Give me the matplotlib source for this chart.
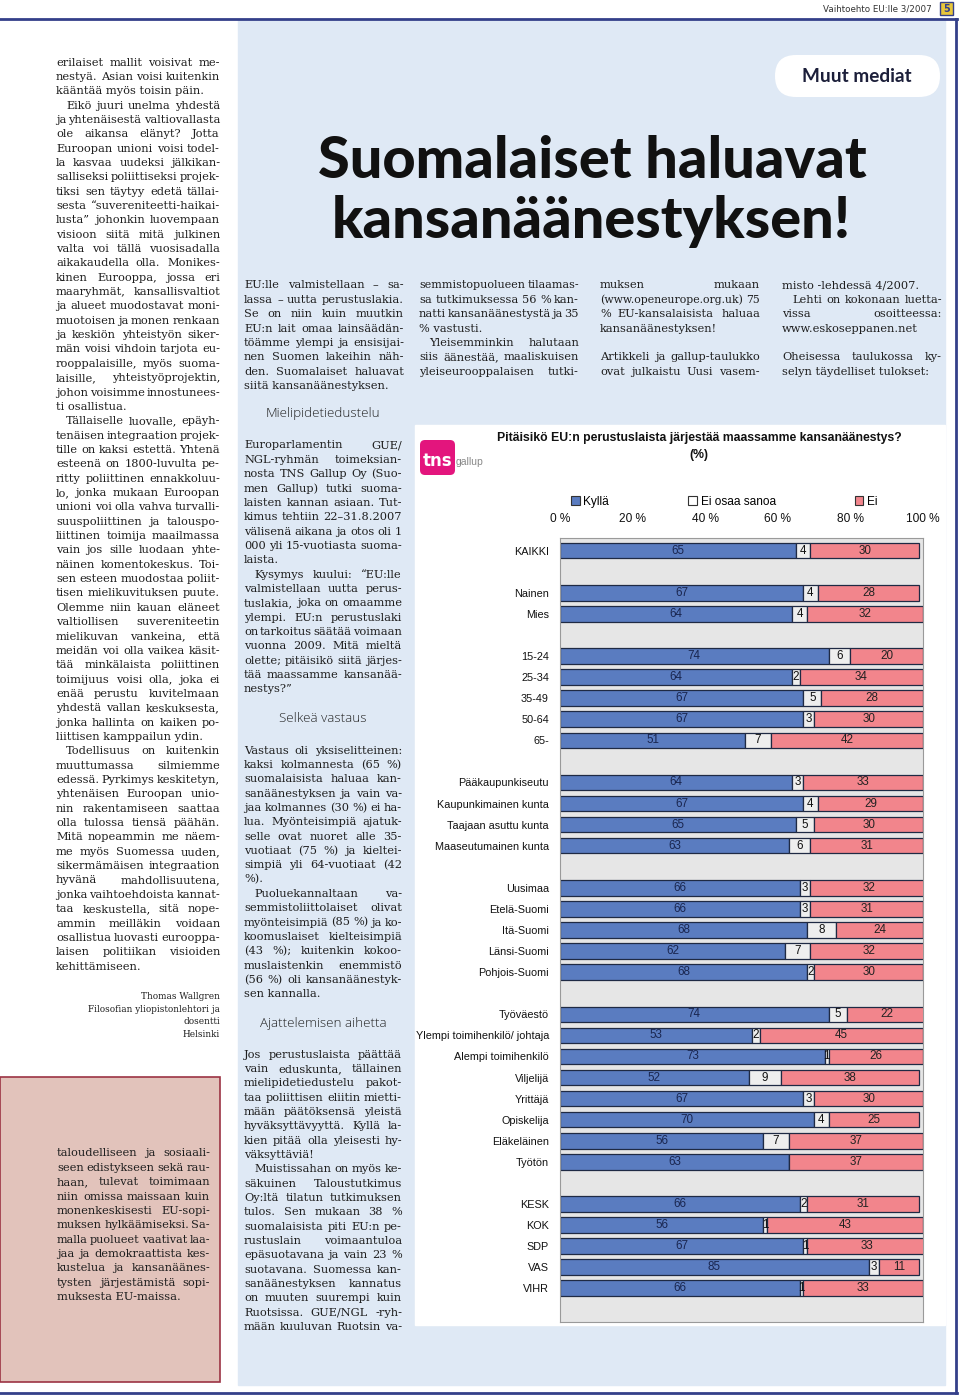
import matplotlib
matplotlib.use("Agg")
import matplotlib.pyplot as plt
from matplotlib.patches import Rectangle, FancyBboxPatch, Patch
from matplotlib.font_manager import FontProperties
import numpy as np

W, H = 960, 1397

# --- chart data (TNS Gallup, %)
categories = ["KAIKKI",
              "Nainen", "Mies",
              "15-24", "25-34", "35-49", "50-64", "65-",
              "Pääkaupunkiseutu", "Kaupunkimainen kunta", "Taajaan asuttu kunta", "Maaseutumainen kunta",
              "Uusimaa", "Etelä-Suomi", "Itä-Suomi", "Länsi-Suomi", "Pohjois-Suomi",
              "Työväestö", "Ylempi toimihenkilö/ johtaja", "Alempi toimihenkilö", "Viljelijä",
              "Yrittäjä", "Opiskelija", "Eläkeläinen", "Työtön",
              "KESK", "KOK", "SDP", "VAS", "VIHR"]
group_sizes = [1, 2, 5, 4, 5, 8, 5]
kylla = [65, 67, 64, 74, 64, 67, 67, 51, 64, 67, 65, 63, 66, 66, 68, 62, 68,
         74, 53, 73, 52, 67, 70, 56, 63, 66, 56, 67, 85, 66]
eos = [4, 4, 4, 6, 2, 5, 3, 7, 3, 4, 5, 6, 3, 3, 8, 7, 2,
       5, 2, 1, 9, 3, 4, 7, 0, 2, 1, 1, 3, 1]
ei = [30, 28, 32, 20, 34, 28, 30, 42, 33, 29, 30, 31, 32, 31, 24, 32, 30,
      22, 45, 26, 38, 30, 25, 37, 37, 31, 43, 33, 11, 33]
legend_labels = ["Kyllä", "Ei osaa sanoa", "Ei"]
ticks = [0, 20, 40, 60, 80, 100]

# --- page text
left_col = [
    ["erilaiset mallit voisivat me-", "nestyä. Asian voisi kuitenkin", "kääntää myös toisin päin."],
    [" Eikö juuri unelma yhdestä", "ja yhtenäisestä valtiovallasta", "ole aikansa elänyt? Jotta",
     "Euroopan unioni voisi todel-", "la kasvaa uudeksi jälkikan-", "salliseksi poliittiseksi projek-",
     "tiksi sen täytyy edetä tällai-", "sesta “suvereniteetti-haikai-", "lusta” johonkin luovempaan",
     "visioon siitä mitä julkinen", "valta voi tällä vuosisadalla", "aikakaudella olla. Monikes-",
     "kinen Eurooppa, jossa eri", "maaryhmät, kansallisvaltiot", "ja alueet muodostavat moni-",
     "muotoisen ja monen renkaan", "ja keskiön yhteistyön siker-", "män voisi vihdoin tarjota eu-",
     "rooppalaisille, myös suoma-", "laisille, yhteistyöprojektin,", "johon voisimme innostunees-",
     "ti osallistua."],
    [" Tällaiselle luovalle, epäyh-", "tenäisen integraation projek-", "tille on kaksi estettä. Yhtenä",
     "esteenä on 1800-luvulta pe-", "ritty poliittinen ennakkoluu-", "lo, jonka mukaan Euroopan",
     "unioni voi olla vahva turvalli-", "suuspoliittinen ja talouspo-", "liittinen toimija maailmassa",
     "vain jos sille luodaan yhte-", "näinen komentokeskus. Toi-", "sen esteen muodostaa poliit-",
     "tisen mielikuvituksen puute.", "Olemme niin kauan eläneet", "valtiollisen suvereniteetin",
     "mielikuvan vankeina, että", "meidän voi olla vaikea käsit-", "tää minkälaista poliittinen",
     "toimijuus voisi olla, joka ei", "enää perustu kuvitelmaan", "yhdestä vallan keskuksesta,",
     "jonka hallinta on kaiken po-", "liittisen kamppailun ydin."],
    [" Todellisuus on kuitenkin", "muuttumassa silmiemme", "edessä. Pyrkimys keskitetyn,",
     "yhtenäisen Euroopan unio-", "nin rakentamiseen saattaa", "olla tulossa tiensä päähän.",
     "Mitä nopeammin me näem-", "me myös Suomessa uuden,", "sikermämäisen integraation",
     "hyvänä mahdollisuutena,", "jonka vaihtoehdoista kannat-", "taa keskustella, sitä nope-",
     "ammin meilläkin voidaan", "osallistua luovasti eurooppa-", "laisen politiikan visioiden",
     "kehittämiseen."],
]
signature = ["Thomas Wallgren", "Filosofian yliopistonlehtori ja", "dosentti", "Helsinki"]
box_text = [
    ["taloudelliseen ja sosiaali-", "seen edistykseen sekä rau-", "haan, tulevat toimimaan",
     "niin omissa maissaan kuin", "monenkeskisesti EU-sopi-", "muksen hylkäämiseksi. Sa-",
     "malla puolueet vaativat laa-", "jaa ja demokraattista kes-", "kustelua ja kansanäänes-",
     "tysten järjestämistä sopi-", "muksesta EU-maissa."],
]
top_cols = [
    [["EU:lle valmistellaan – sa-", "lassa – uutta perustuslakia.", "Se on niin kuin muutkin",
      "EU:n lait omaa lainsäädän-", "töämme ylempi ja ensisijai-", "nen Suomen lakeihin näh-",
      "den. Suomalaiset haluavat", "siitä kansanäänestyksen."]],
    [["semmistopuolueen tilaamas-", "sa tutkimuksessa 56 % kan-", "natti kansanäänestystä ja 35",
      "% vastusti."],
     [" Yleisemminkin halutaan", "siis äänestää, maaliskuisen", "yleiseurooppalaisen tutki-"]],
    [["muksen mukaan", "(www.openeurope.org.uk) 75", "% EU-kansalaisista haluaa",
      "kansanäänestyksen!"], [],
     ["Artikkeli ja gallup-taulukko", "ovat julkaistu Uusi vasem-"]],
    [["misto -lehdessä 4/2007."], [" Lehti on kokonaan luetta-", "vissa osoitteessa:",
      "www.eskoseppanen.net"], [],
     ["Oheisessa taulukossa ky-", "selyn täydelliset tulokset:"]],
]
mid_blocks = [
    ("Mielipidetiedustelu",
     [["Europarlamentin GUE/", "NGL-ryhmän toimeksian-", "nosta TNS Gallup Oy (Suo-",
       "men Gallup) tutki suoma-", "laisten kannan asiaan. Tut-", "kimus tehtiin 22–31.8.2007",
       "välisenä aikana ja otos oli 1", "000 yli 15-vuotiasta suoma-", "laista."],
      [" Kysymys kuului: “EU:lle", "valmistellaan uutta perus-", "tuslakia, joka on omaamme",
       "ylempi. EU:n perustuslaki", "on tarkoitus säätää voimaan", "vuonna 2009. Mitä mieltä",
       "olette; pitäisikö siitä järjes-", "tää maassamme kansanää-", "nestys?”"]]),
    ("Selkeä vastaus",
     [["Vastaus oli yksiselitteinen:", "kaksi kolmannesta (65 %)", "suomalaisista haluaa kan-",
       "sanäänestyksen ja vain va-", "jaa kolmannes (30 %) ei ha-", "lua. Myönteisimpiä ajatuk-",
       "selle ovat nuoret alle 35-", "vuotiaat (75 %) ja kieltei-", "simpiä yli 64-vuotiaat (42",
       "%)."],
      [" Puoluekannaltaan va-", "semmistoliittolaiset olivat", "myönteisimpiä (85 %) ja ko-",
       "koomuslaiset kielteisimpiä", "(43 %); kuitenkin kokoo-", "muslaistenkin enemmistö",
       "(56 %) oli kansanäänestyk-", "sen kannalla."]]),
    ("Ajattelemisen aihetta",
     [["Jos perustuslaista päättää", "vain eduskunta, tällainen", "mielipidetiedustelu pakot-",
       "taa poliittisen eliitin mietti-", "mään päätöksensä yleistä", "hyväksyttävyyttä. Kyllä la-",
       "kien pitää olla yleisesti hy-", "väksyttäviä!"],
      [" Muistissahan on myös ke-", "säkuinen Taloustutkimus", "Oy:ltä tilatun tutkimuksen",
       "tulos. Sen mukaan 38 %", "suomalaisista piti EU:n pe-", "rustuslain voimaantuloa",
       "epäsuotavana ja vain 23 %", "suotavana. Suomessa kan-", "sanäänestyksen kannatus",
       "on muuten suurempi kuin", "Ruotsissa. GUE/NGL -ryh-", "mään kuuluvan Ruotsin va-"]]),
]
headline = ["Suomalaiset haluavat", "kansanäänestyksen!"]

ink = "#1e1e1e"
navy = "#34408a"
panel = "#dfe9f5"
blue = "#5a7cc0"
pink = "#f2858c"
grey = "#eeeeee"

fig = plt.figure(figsize=(W / 100, H / 100), dpi=100)
page = fig.add_axes([0, 0, 1, 1])
page.set_xlim(0, W)
page.set_ylim(H, 0)
page.axis("off")
renderer = fig.canvas.get_renderer()


def width_of(s, fp):
    w, h, d = renderer.get_text_width_height_descent(s, fp, ismath=False)
    return w


def fit_size(s, fp, target):
    f = fp.copy()
    f.set_size(10)
    return 10 * target / width_of(s, f)


# backgrounds and frame
page.add_patch(Rectangle((238, 20), 707, 1365, color=panel, zorder=0))
page.add_patch(Rectangle((415, 425), 530, 900, color="white", zorder=0))
page.add_patch(Rectangle((0, 1077), 220, 305, facecolor="#e2c3bb", edgecolor="#9c3344", lw=1.2, zorder=1))
page.plot([0, 957], [19, 19], color=navy, lw=2)
page.plot([956, 956], [19, 1393], color=navy, lw=2)
page.plot([0, 957], [1393, 1393], color=navy, lw=2)

# running header
hf = FontProperties(family="DejaVu Sans", size=6.3)
page.text(932, 12, "Vaihtoehto EU:lle 3/2007", fontproperties=hf, ha="right", va="baseline", color="#333")
page.add_patch(Rectangle((940, 2), 13, 13, facecolor="#e8c63a", edgecolor=navy, lw=1))
page.text(946.5, 9, "5", fontsize=7, fontweight="bold", ha="center", va="center", color=navy)

# body text with justification
body = FontProperties(family="DejaVu Serif", size=8.2)
LH = 14.35


def draw_column(x0, width, y0, paras, fp=body, indent=10):
    y = y0
    for para in paras:
        if not para:
            y += LH
            continue
        for i, line in enumerate(para):
            x = x0
            w = width
            if i == 0 and line.startswith(" "):
                x += indent
                w -= indent
            words = line.split()
            f = fp.copy()
            ws = [width_of(t, f) for t in words]
            need = sum(ws) + 1.8 * (len(words) - 1)
            if need > w:
                f.set_size(fp.get_size() * w / need)
                ws = [width_of(t, f) for t in words]
            last = i == len(para) - 1 and not line.endswith("-")
            if last or len(words) < 2:
                page.text(x, y + 3.5, " ".join(words), fontproperties=f, ha="left", va="baseline", color=ink)
            else:
                gap = (w - sum(ws)) / (len(words) - 1)
                for t, tw in zip(words, ws):
                    page.text(x, y + 3.5, t, fontproperties=f, ha="left", va="baseline", color=ink)
                    x += tw + gap
            y += LH
    return y


draw_column(56, 164, 62, left_col)
sf = FontProperties(family="DejaVu Serif", size=6.4)
for k, s in enumerate(signature):
    page.text(220, 999 + k * 12.6, s, fontproperties=sf, ha="right", va="baseline", color=ink)
draw_column(57, 153, 1153, box_text)

for x0, paras in zip([244, 419, 600, 782], top_cols):
    draw_column(x0, 160, 285, paras)

sub = FontProperties(family="Open Sans", weight="light", size=9.6)
for (title, paras), yh in zip(mid_blocks, [414, 719, 1023]):
    page.text(323, yh, title, fontproperties=sub, ha="center", va="center", color="#222")
    draw_column(244, 158, yh + 31, paras)

# headline
hl = FontProperties(family="Lato", weight="black", size=40)
hl.set_size(fit_size(headline[0], hl, 548))
page.text(592, 178, headline[0], fontproperties=hl, ha="center", va="baseline", color="#111")
page.text(591, 238, headline[1], fontproperties=hl, ha="center", va="baseline", color="#111")

# "Muut mediat" pill
page.add_patch(FancyBboxPatch((775, 55), 165, 42, boxstyle="round,pad=0,rounding_size=21",
                              facecolor="white", edgecolor="none", zorder=2))
mm = FontProperties(family="Lato", weight="bold", size=14)
mm.set_size(fit_size("Muut mediat", mm, 110))
page.text(857, 77, "Muut mediat", fontproperties=mm, ha="center", va="center", color="#1c1f3a", zorder=3)

# tns gallup logo
page.add_patch(FancyBboxPatch((420, 440), 35, 35, boxstyle="round,pad=0,rounding_size=5",
                              facecolor="#e3157d", edgecolor="none"))
page.text(438, 461, "tns", fontsize=12, fontweight="bold", color="white", ha="center", va="center",
          family="DejaVu Sans")
page.text(470, 462, "gallup", fontsize=7.5, color="#888", ha="center", va="center", family="Liberation Sans")

# chart title
page.text(699, 438, "Pitäisikö EU:n perustuslaista järjestää maassamme kansanäänestys?",
          fontsize=8.8, fontweight="bold", family="Liberation Sans", ha="center", va="center", color="#111")
page.text(699, 455, "(%)", fontsize=8.8, fontweight="bold", family="Liberation Sans",
          ha="center", va="center", color="#111")

# --- stacked bar chart
pos = []
slot = 0
for g in group_sizes:
    pos += list(range(slot, slot + g))
    slot += g + 1
pos = np.array(pos)

x0, x1, ytop, ybot = 560, 923, 538, 1322
ax = fig.add_axes([x0 / W, 1 - ybot / H, (x1 - x0) / W, (ybot - ytop) / H])
ax.set_facecolor("#e6e6e6")
kylla_a, eos_a, ei_a = np.array(kylla), np.array(eos), np.array(ei)
bh = 0.74
ax.barh(pos, kylla_a, height=bh, color=blue, edgecolor="#1f2a44", lw=0.9)
ax.barh(pos, eos_a, left=kylla_a, height=bh, color=grey, edgecolor="#1f2a44", lw=0.9)
ax.barh(pos, ei_a, left=kylla_a + eos_a, height=bh, color=pink, edgecolor="#1f2a44", lw=0.9)
lf = dict(fontsize=8.4, family="Liberation Sans", ha="center", va="center")
for p, a, b, c in zip(pos, kylla_a, eos_a, ei_a):
    ax.text(a / 2, p, str(a), color="#1a2650", **lf)
    if b > 0:
        ax.text(a + b / 2, p, str(b), color="#111", **lf)
    ax.text(a + b + c / 2, p, str(c), color="#222", **lf)
ax.set_xlim(0, 100)
ax.set_ylim(slot - 1 + 0.6, -0.6)
ax.set_yticks(pos)
ax.set_yticklabels(categories, fontsize=7.8, family="Liberation Sans", color="#111")
ax.xaxis.tick_top()
ax.set_xticks(ticks)
ax.set_xticklabels([f"{t} %" for t in ticks], fontsize=8.6, family="Liberation Sans", color="#111")
ax.tick_params(length=0, axis="x", pad=9)
ax.tick_params(length=0, axis="y", pad=8)
for s in ax.spines.values():
    s.set_color("#9a9a9a")
    s.set_linewidth(0.8)
handles = [Patch(facecolor=c, edgecolor="#333", lw=0.8) for c in [blue, "white", pink]]
ax.legend(handles, legend_labels, ncol=3, loc="center left", bbox_to_anchor=(0.03, 1.046),
          frameon=False, borderpad=0, borderaxespad=0, handlelength=0.75, handleheight=0.75,
          handletextpad=0.3, columnspacing=6.6, prop=FontProperties(family="Liberation Sans", size=8.6))

fig.savefig("out.png", dpi=100)
